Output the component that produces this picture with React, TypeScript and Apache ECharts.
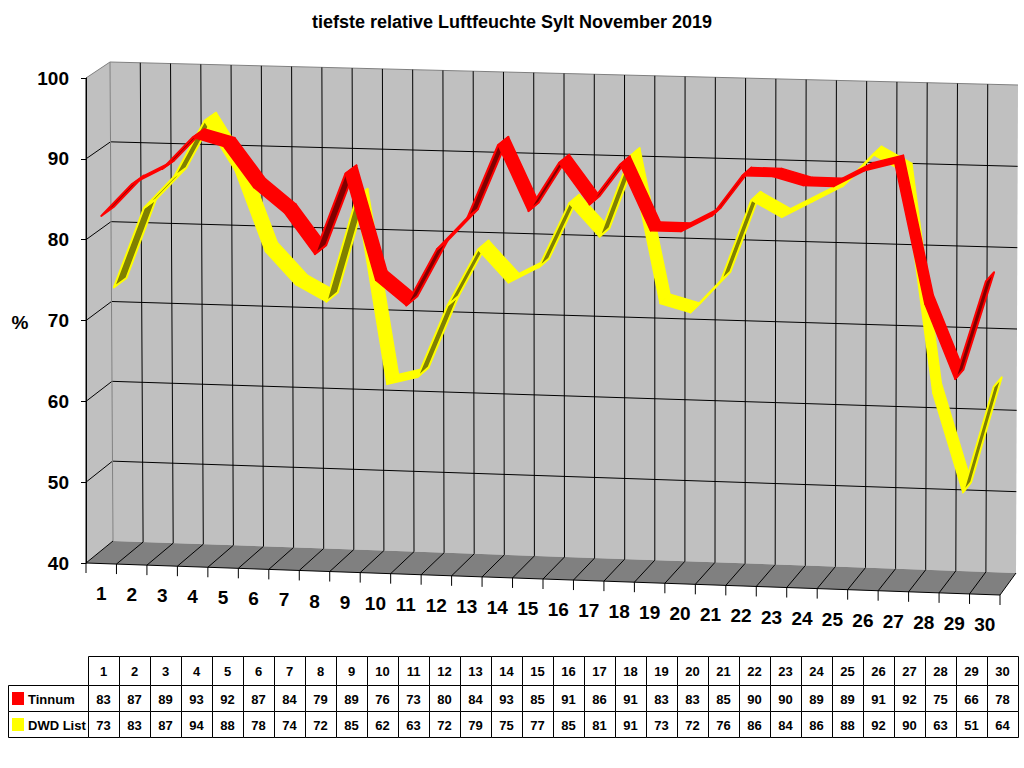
import React, { useEffect, useRef } from "react";
import * as echarts from "echarts";

// Tage im November
const days = [
  "1", "2", "3", "4", "5", "6", "7", "8", "9", "10",
  "11", "12", "13", "14", "15", "16", "17", "18", "19", "20",
  "21", "22", "23", "24", "25", "26", "27", "28", "29", "30",
];
// tiefste relative Luftfeuchte in %
const tinnum = [83, 87, 89, 93, 92, 87, 84, 79, 89, 76, 73, 80, 84, 93, 85, 91, 86, 91, 83, 83, 85, 90, 90, 89, 89, 91, 92, 75, 66, 78];
const dwdList = [73, 83, 87, 94, 88, 78, 74, 72, 85, 62, 63, 72, 79, 75, 77, 85, 81, 91, 73, 72, 76, 86, 84, 86, 88, 92, 90, 63, 51, 64];
const yTicks = [40, 50, 60, 70, 80, 90, 100];
const seriesNames = ["Tinnum", "DWD List"];

const FONT = "'Liberation Sans', Arial, sans-serif";
const WALL = "#c0c0c0";
const FLOOR = "#808080";

// Ecken der Vorder- und Rückwand relativ zur Ecke unten links (bl, br, tl, tr)
const FRONT = [[0, 0], [914, 32], [0, -485], [916, -463]];
const BACK = [[27, -22], [930, 10], [24, -501], [932, -478]];

// Punkt (Tag u, Wert v, Tiefe d) -> Bildschirm, über die Achsen der Bibliothek
function project(api: any, cs: any, u: number, v: number, d: number) {
  const [X, Y] = api.coord([u, v]);
  const t = (X - cs.x) / cs.width;
  const f = (cs.y + cs.height - Y) / cs.height;
  const w = [(1 - t) * (1 - f), t * (1 - f), (1 - t) * f, t * f];
  const mix = (c: number[][], k: number) => c.reduce((s, p, i) => s + p[k] * w[i], 0);
  const fx = mix(FRONT, 0), fy = mix(FRONT, 1);
  const bx = mix(BACK, 0), by = mix(BACK, 1);
  return [cs.x + fx + (bx - fx) * d, cs.y + cs.height + fy + (by - fy) * d];
}

// Wände, Boden, Gitter, x-Beschriftung
const renderFrame = (params: any, api: any) => {
  const cs = params.coordSys;
  const P = (u: number, v: number, d: number) => project(api, cs, u, v, d);
  const n = days.length;
  const vMin = yTicks[0];
  const vMax = yTicks[yTicks.length - 1];
  const children: any[] = [];
  const line = (pts: number[][], color: string) =>
    children.push({ type: "polyline", shape: { points: pts }, style: { stroke: color, lineWidth: 1, fill: null } });

  children.push({ type: "polygon", shape: { points: [P(0, vMin, 1), P(n, vMin, 1), P(n, vMax, 1), P(0, vMax, 1)] }, style: { fill: WALL } });
  children.push({ type: "polygon", shape: { points: [P(0, vMin, 0), P(0, vMin, 1), P(0, vMax, 1), P(0, vMax, 0)] }, style: { fill: WALL } });
  children.push({ type: "polygon", shape: { points: [P(0, vMin, 0), P(n, vMin, 0), P(n, vMin, 1), P(0, vMin, 1)] }, style: { fill: FLOOR } });

  yTicks.forEach((v) => {
    if (v === vMin) return;
    line([P(0, v, 0), P(0, v, 1), P(n, v, 1)], v === vMax ? "#808080" : "#000");
  });
  for (let u = 0; u < n; u++) {
    line([P(u, vMin, 1), P(u, vMax, 1)], u === 0 ? "#808080" : "#000");
  }
  for (let u = 0; u <= n; u++) {
    line([P(u, vMin, 0), P(u, vMin, 1)], "#000");
    const p = P(u, vMin, 0);
    line([p, [p[0], p[1] + 10]], "#000");
  }
  line([P(0, vMin, 0), P(n, vMin, 0)], "#000");
  line([P(0, vMin, 0), P(0, vMax, 0)], "#000");

  days.forEach((label, i) => {
    const p = P(i + 0.5, vMin, 0);
    children.push({
      type: "text",
      x: p[0],
      y: p[1] + 30,
      style: { text: label, font: `bold 19px ${FONT}`, fill: "#000", textAlign: "center", textVerticalAlign: "middle" },
    });
  });
  return { type: "group", children };
};

// 3D-Band einer Linie, ein Segment je Datenpunkt
const ribbon = (bright: string, dark: string, d0: number, d1: number) => (params: any, api: any) => {
  const cs = params.coordSys;
  const u0 = api.value(0), v0 = api.value(1), u1 = api.value(2), v1 = api.value(3);
  const a = project(api, cs, u0, v0, d0);
  const b = project(api, cs, u1, v1, d0);
  const c = project(api, cs, u1, v1, d1);
  const e = project(api, cs, u0, v0, d1);
  const cross = (b[0] - a[0]) * (e[1] - a[1]) - (b[1] - a[1]) * (e[0] - a[0]);
  const under = cross > 0;
  return {
    type: "polygon",
    shape: { points: [a, b, c, e] },
    style: { fill: under ? dark : bright, stroke: bright, lineWidth: under ? 2 : 1.5, lineJoin: "round" },
  };
};

const segments = (vals: number[]) => vals.slice(0, -1).map((v, i) => [i + 0.5, v, i + 1.5, vals[i + 1]]);

// Datentabelle unten
function buildTable() {
  const els: any[] = [];
  const x0 = 88, colW = 31, labelX = 8;
  const rows = [656, 685, 711, 737];
  const cell = (x: number, y: number, w: number, h: number) =>
    els.push({ type: "rect", shape: { x: x + 0.5, y: y + 0.5, width: w, height: h }, style: { fill: "#fff", stroke: "#000", lineWidth: 1 } });
  const txt = (x: number, y: number, s: string, align = "center") =>
    els.push({ type: "text", x, y, style: { text: s, font: `bold 13px ${FONT}`, fill: "#000", textAlign: align, textVerticalAlign: "middle" } });

  days.forEach((d, i) => {
    cell(x0 + i * colW, rows[0], colW, rows[1] - rows[0]);
    txt(x0 + i * colW + colW / 2, (rows[0] + rows[1]) / 2 + 1, d);
  });
  [tinnum, dwdList].forEach((vals, r) => {
    const y = rows[r + 1], h = rows[r + 2] - rows[r + 1];
    cell(labelX, y, x0 - labelX, h);
    els.push({ type: "rect", shape: { x: 12, y: y + h / 2 - 6, width: 12, height: 13 }, style: { fill: r === 0 ? "#ff0000" : "#ffff00" } });
    txt(28, y + h / 2 + 1, seriesNames[r], "left");
    vals.forEach((v, i) => {
      cell(x0 + i * colW, y, colW, h);
      txt(x0 + i * colW + colW / 2, y + h / 2 + 1, String(v));
    });
  });
  return els;
}

const App: React.FC = () => {
  const chartRef = useRef<HTMLDivElement>(null);

  useEffect(() => {
    const chart = echarts.init(chartRef.current, null, { renderer: "svg" });
    const option: any = {
      animation: false,
      backgroundColor: "#fff",
      title: {
        text: "tiefste relative Luftfeuchte Sylt November 2019",
        left: "center",
        top: 8,
        textStyle: { fontFamily: FONT, fontSize: 18, fontWeight: "bold", color: "#000" },
      },
      grid: { left: 86, top: 78, width: 914, height: 485 },
      xAxis: { type: "value", min: 0, max: days.length, show: false },
      yAxis: {
        type: "value",
        min: yTicks[0],
        max: yTicks[yTicks.length - 1],
        interval: 10,
        z: 10,
        axisLine: { show: true, lineStyle: { color: "#000", width: 1 } },
        axisTick: { show: true, length: 5, lineStyle: { color: "#000" } },
        axisLabel: { margin: 17, color: "#000", fontSize: 19, fontWeight: "bold", fontFamily: FONT },
        splitLine: { show: false },
      },
      graphic: [
        {
          type: "text",
          x: 20,
          y: 322,
          style: { text: "%", font: `bold 19px ${FONT}`, fill: "#000", textAlign: "center", textVerticalAlign: "middle" },
        },
        ...buildTable(),
      ],
      series: [
        {
          type: "custom",
          name: "frame",
          silent: true,
          clip: false,
          data: [[0, yTicks[0]]],
          renderItem: renderFrame,
        },
        {
          type: "custom",
          name: seriesNames[1],
          silent: true,
          clip: false,
          encode: { x: [0, 2], y: [1, 3] },
          data: segments(dwdList),
          renderItem: ribbon("#ffff00", "#808000", 0.5, 1),
        },
        {
          type: "custom",
          name: seriesNames[0],
          silent: true,
          clip: false,
          encode: { x: [0, 2], y: [1, 3] },
          data: segments(tinnum),
          renderItem: ribbon("#ff0000", "#800000", 0, 0.5),
        },
      ],
    };
    chart.setOption(option);
    return () => chart.dispose();
  }, []);

  return (
    <div
      ref={chartRef}
      style={{ position: "fixed", left: 0, top: 0, width: 1024, height: 768, background: "#fff" }}
    />
  );
};

export default App;
